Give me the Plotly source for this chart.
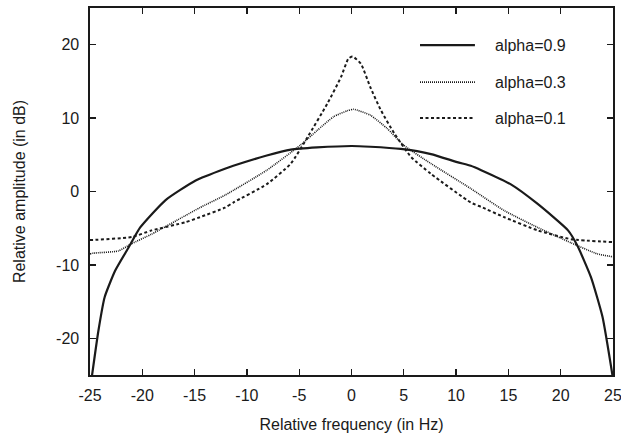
import plotly.graph_objects as go

# --- data ---
x_09 = [-24.85, -24.2, -23.6, -22.6, -21.3, -20.2, -17.8, -14.9, -12.1, -11.3, -8.1, -5.8, -3.3, 0.0,
        1.8, 4.7, 7.6, 10.1, 11.4, 12.4, 15.2, 17.8, 20.7, 21.6, 22.9, 24.0, 25.0]
y_09 = [-25.5, -19.0, -14.4, -10.8, -7.6, -4.9, -1.2, 1.5, 3.1, 3.5, 4.9, 5.7, 6.0, 6.2,
        6.1, 5.8, 5.1, 4.0, 3.5, 2.9, 1.0, -1.7, -5.3, -7.4, -11.7, -17.1, -25.5]

x_03 = [-25.0, -24.7, -22.3, -21.0, -19.1, -15.9, -14.5, -12.1, -8.1, -4.9, -3.3, -1.7, -0.4,
        0.2, 1.8, 3.4, 5.0, 7.6, 11.4, 14.6, 17.8, 21.0, 23.5, 25.0]
y_03 = [-8.5, -8.4, -8.1, -7.1, -5.8, -3.3, -2.2, -0.5, 2.9, 6.3, 8.3, 10.2, 11.0,
        11.2, 10.4, 8.6, 6.3, 3.8, 0.4, -2.6, -4.9, -7.0, -8.5, -8.9]

x_01 = [-25.0, -24.7, -21.0, -19.1, -15.9, -14.5, -12.1, -11.3, -8.1, -5.8, -4.2, -2.3, -1.0, -0.3,
        0.1, 0.9, 1.8, 2.8, 4.1, 5.7, 7.6, 11.4, 12.4, 14.6, 17.8, 21.0, 25.0]
y_01 = [-6.6, -6.6, -6.2, -5.3, -4.2, -3.5, -2.2, -1.5, 1.0, 3.8, 7.4, 12.0, 15.6, 18.1,
        18.4, 17.4, 14.2, 11.1, 7.9, 4.7, 2.4, -1.5, -2.1, -3.5, -5.3, -6.5, -6.9]

series_names = ["alpha=0.9", "alpha=0.3", "alpha=0.1"]
x_ticks = [-25, -20, -15, -10, -5, 0, 5, 10, 15, 20, 25]
y_ticks = [-20, -10, 0, 10, 20]

INK = "#1a1a1a"
FONT = "Liberation Sans, Arial, sans-serif"

styles = [
    dict(width=2.2, dash="solid"),
    dict(width=1.6, dash="1px,1px"),
    dict(width=2.0, dash="3px,2.5px"),
]

fig = go.Figure()
for xs, ys, name, st in zip([x_09, x_03, x_01], [y_09, y_03, y_01], series_names, styles):
    fig.add_trace(go.Scatter(
        x=xs, y=ys, mode="lines", name=name, showlegend=False,
        line=dict(color=INK, width=st["width"], dash=st["dash"], shape="spline", smoothing=0.5),
    ))

# custom legend (line samples + labels) in the upper right
leg_y = [0.899, 0.798, 0.700]
for name, st, yy in zip(series_names, styles, leg_y):
    fig.add_shape(type="line", xref="paper", yref="paper", x0=0.631, x1=0.736, y0=yy, y1=yy,
                  line=dict(color=INK, width=st["width"], dash=st["dash"]))
    fig.add_annotation(xref="paper", yref="paper", x=0.771, y=yy, text=name, showarrow=False,
                       xanchor="left", yanchor="middle", font=dict(size=16, color=INK, family=FONT))

axis_common = dict(
    showline=True, linecolor=INK, linewidth=1.6, mirror="ticks",
    ticks="inside", ticklen=6, tickwidth=1.4, tickcolor=INK,
    showgrid=False, zeroline=False, automargin=False,
    ticklabeloverflow="allow",
    tickfont=dict(size=16, color=INK, family=FONT),
)

fig.update_xaxes(range=[-25, 25], tickvals=x_ticks, ticktext=[str(v) for v in x_ticks],
                 title=dict(text="Relative frequency (in Hz)", font=dict(size=16, color=INK, family=FONT),
                            standoff=16),
                 ticklabelstandoff=5, **axis_common)
fig.update_yaxes(range=[-25, 25], tickvals=y_ticks, ticktext=[str(v) for v in y_ticks],
                 title=dict(text="Relative amplitude (in dB)", font=dict(size=16, color=INK, family=FONT),
                            standoff=26),
                 ticklabelstandoff=6, **axis_common)

fig.update_layout(
    width=621, height=436,
    margin=dict(l=90, r=8, t=8, b=61),
    plot_bgcolor="white", paper_bgcolor="white",
    font=dict(family=FONT, size=16, color=INK),
)

fig.write_html("out.html", config={"displayModeBar": False, "staticPlot": True},
               post_script="document.body.style.margin='0';document.body.style.overflow='hidden';")
